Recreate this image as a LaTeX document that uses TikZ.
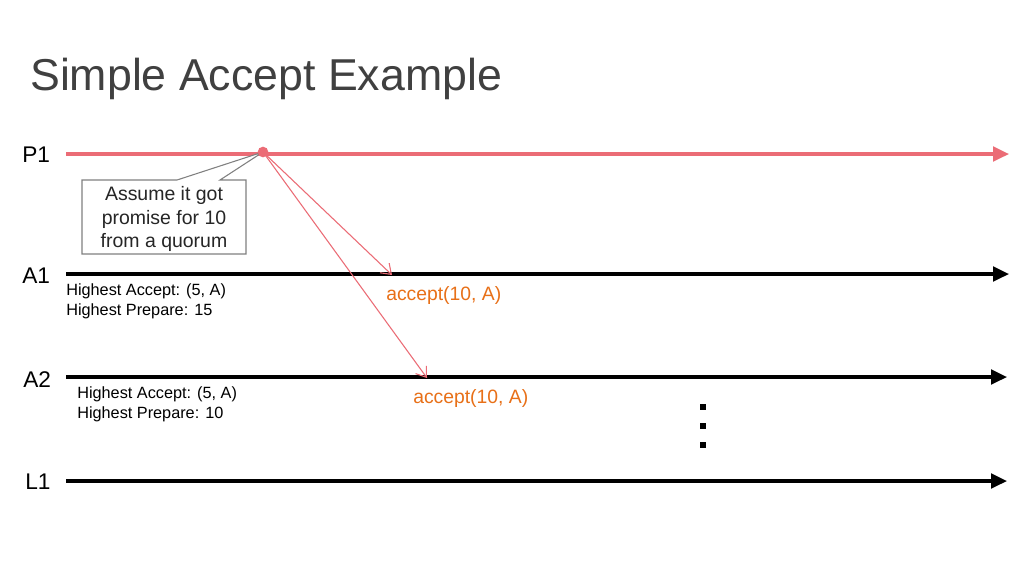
\documentclass[tikz,border=0pt]{standalone}
\usepackage{fontspec}
\setmainfont{Liberation Sans}
\usetikzlibrary{arrows.meta}
\definecolor{pred}{RGB}{235,108,118}
\definecolor{porange}{RGB}{232,112,24}
\definecolor{titlegray}{RGB}{64,64,64}
\definecolor{boxgray}{RGB}{128,128,128}
\begin{document}
\begin{tikzpicture}[x=0.75pt,y=-0.75pt,
  lbl/.style={font=\fontsize{17pt}{18pt}\selectfont, inner sep=0pt, anchor=west},
  small/.style={font=\fontsize{12.2pt}{15pt}\selectfont, inner sep=0pt, anchor=north west, align=left},
  acc/.style={font=\fontsize{14.5pt}{17pt}\selectfont, text=porange, inner sep=0pt, anchor=west},
  timeline/.style={line width=2.4pt, -{Triangle[length=12pt,width=11pt]}},
  redline/.style={timeline, draw=pred, -{Triangle[length=12pt,width=11pt,fill=pred]}},
  blackline/.style={timeline, draw=black},
  msg/.style={draw=pred, line width=0.8pt, -{Straight Barb[length=7pt,width=10pt]}},
  callout/.style={draw=boxgray, line width=0.8pt, fill=white},
  dotsq/.style={fill=black, minimum size=4.5pt, inner sep=0pt}
]
\useasboundingbox (0,0) rectangle (1024,576);
\fill[white] (0,0) rectangle (1024,576);

% title
\node[anchor=base west, inner sep=0pt, text=titlegray, font=\fontsize{33.5pt}{40pt}\selectfont] (title) at (30,90) {Simple Accept Example};

% process labels
\node[lbl] (lp1) at (22,155) {P1};
\node[lbl] (la1) at (22,276) {A1};
\node[lbl] (la2) at (23,380) {A2};
\node[lbl] (ll1) at (25,482) {L1};

% timeline coordinates
\coordinate (p1s) at (66,154);  \coordinate (p1e) at (1009,154);
\coordinate (a1s) at (66,274);  \coordinate (a1e) at (1009,274);
\coordinate (a2s) at (66,377);  \coordinate (a2e) at (1007,377);
\coordinate (l1s) at (66,481);  \coordinate (l1e) at (1007,481);

\draw[redline] (p1s) -- (p1e);
\draw[blackline] (a1s) -- (a1e);
\draw[blackline] (a2s) -- (a2e);
\draw[blackline] (l1s) -- (l1e);

% send point
\coordinate (send) at (263,152);
\coordinate (m1) at (392,275);
\coordinate (m2) at (427,378);
\draw[msg] (send) -- (m1);
\draw[msg] (send) -- (m2);

% callout
\draw[callout] (82,180) -- (177,180) -- (send) -- (220,180) -- (246,180) -- (246,254) -- (82,254) -- cycle;
\node[align=center, inner sep=0pt, font=\fontsize{14.6pt}{17.6pt}\selectfont, text=black!85] (note) at (164,219) {Assume it got\\promise for 10\\from a quorum};

\fill[pred] (send) circle (4pt);

% state labels
\node[small] (s1) at (66,283) {Highest Accept: (5, A)\\Highest Prepare: 15};
\node[small] (s2) at (77,386) {Highest Accept: (5, A)\\Highest Prepare: 10};

% accept labels
\node[acc] (acc1) at (386,295) {accept(10, A)};
\node[acc] (acc2) at (413,398) {accept(10, A)};

% vertical dots
\node[dotsq] (d1) at (703,407) {};
\node[dotsq] (d2) at (703,426) {};
\node[dotsq] (d3) at (703,445) {};
\end{tikzpicture}
\end{document}
